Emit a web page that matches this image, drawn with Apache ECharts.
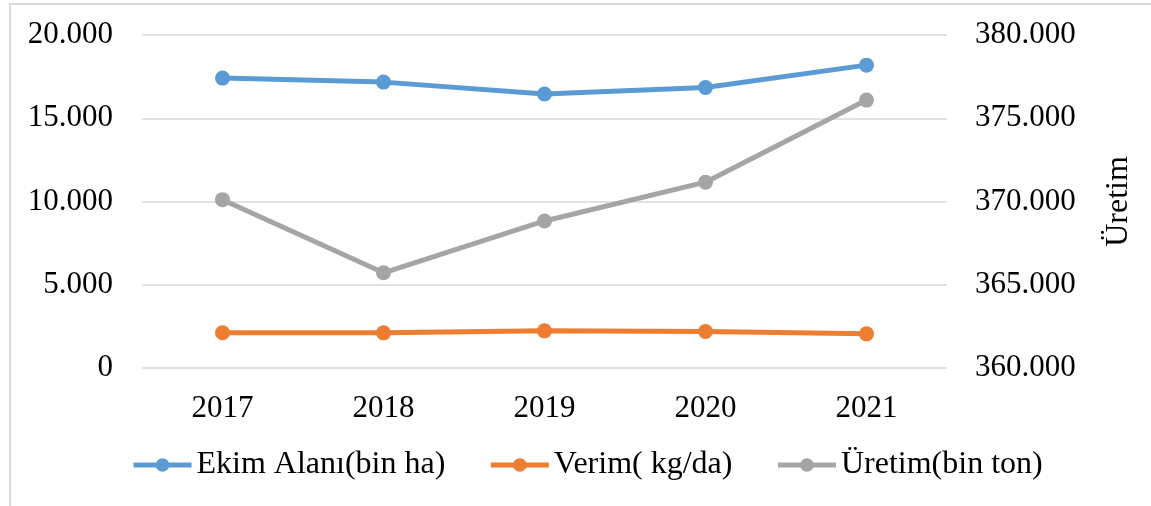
<!DOCTYPE html>
<html>
<head>
<meta charset="utf-8">
<script src="https://cdn.jsdelivr.net/npm/echarts@6/dist/echarts.min.js"></script>
<style>
  html, body { margin: 0; padding: 0; background: #fff; overflow: hidden; }
  #chart { position: absolute; left: 0; top: 0; width: 1151px; height: 506px; }
  .frame { position: absolute; left: 9px; top: 3px; width: 1300px; height: 700px; border: 2px solid #d9d9d9; pointer-events: none; }
</style>
</head>
<body>
<div id="chart"></div>
<div class="frame"></div>
<script>
  // yıllar ve seriler
  const years = ["2017", "2018", "2019", "2020", "2021"];
  const ekimAlani = [17410, 17170, 16460, 16850, 18190];
  const verim = [2120, 2110, 2230, 2190, 2050];
  const uretim = [370110, 365720, 368830, 371160, 376090];

  const seriesNames = ["Ekim Alanı(bin ha)", "Verim( kg/da)", "Üretim(bin ton)"];
  const colors = ["#5b9bd5", "#ed7d31", "#a5a5a5"];

  const fontFamily = "'Liberation Serif', 'Times New Roman', serif";

  function fmt(v) {
    if (v === 0) return "0";
    return String(v).replace(/\B(?=(\d{3})+(?!\d))/g, ".");
  }

  const chart = echarts.init(document.getElementById("chart"));

  const lineSeries = (name, data, color, yIndex) => ({
    name: name,
    type: "line",
    yAxisIndex: yIndex,
    data: data,
    symbol: "circle",
    symbolSize: 15,
    lineStyle: { color: color, width: 5 },
    itemStyle: { color: color },
    z: 3,
  });

  const option = {
    animation: false,
    textStyle: { fontFamily: fontFamily },
    color: colors,
    grid: {
      left: 142,
      right: 204,
      top: 35,
      bottom: 138,
    },
    legend: {
      bottom: 20,
      left: 126,
      itemWidth: 58,
      itemHeight: 17,
      itemGap: 43,
      lineStyle: { width: 5 },
      textStyle: { fontSize: 32, color: "#000", fontFamily: fontFamily },
      data: seriesNames,
    },
    xAxis: {
      type: "category",
      data: years,
      axisLine: { show: false },
      axisTick: { show: false },
      axisLabel: { fontSize: 31, color: "#000", margin: 25 },
    },
    yAxis: [
      {
        type: "value",
        min: 0,
        max: 20000,
        interval: 5000,
        axisLine: { show: false },
        axisTick: { show: false },
        axisLabel: { fontSize: 31, color: "#000", margin: 29, formatter: fmt },
        splitLine: { lineStyle: { color: "#d9d9d9", width: 1.5 } },
      },
      {
        type: "value",
        min: 360000,
        max: 380000,
        interval: 5000,
        position: "right",
        name: "Üretim",
        nameLocation: "middle",
        nameRotate: 90,
        nameGap: 156,
        nameTextStyle: { fontSize: 32, color: "#000", fontFamily: fontFamily },
        axisLine: { show: false },
        axisTick: { show: false },
        axisLabel: { fontSize: 31, color: "#000", margin: 28, formatter: fmt },
        splitLine: { show: false },
      },
    ],
    series: [
      lineSeries(seriesNames[0], ekimAlani, colors[0], 0),
      lineSeries(seriesNames[1], verim, colors[1], 0),
      lineSeries(seriesNames[2], uretim, colors[2], 1),
    ],
  };

  chart.setOption(option);
</script>
</body>
</html>
